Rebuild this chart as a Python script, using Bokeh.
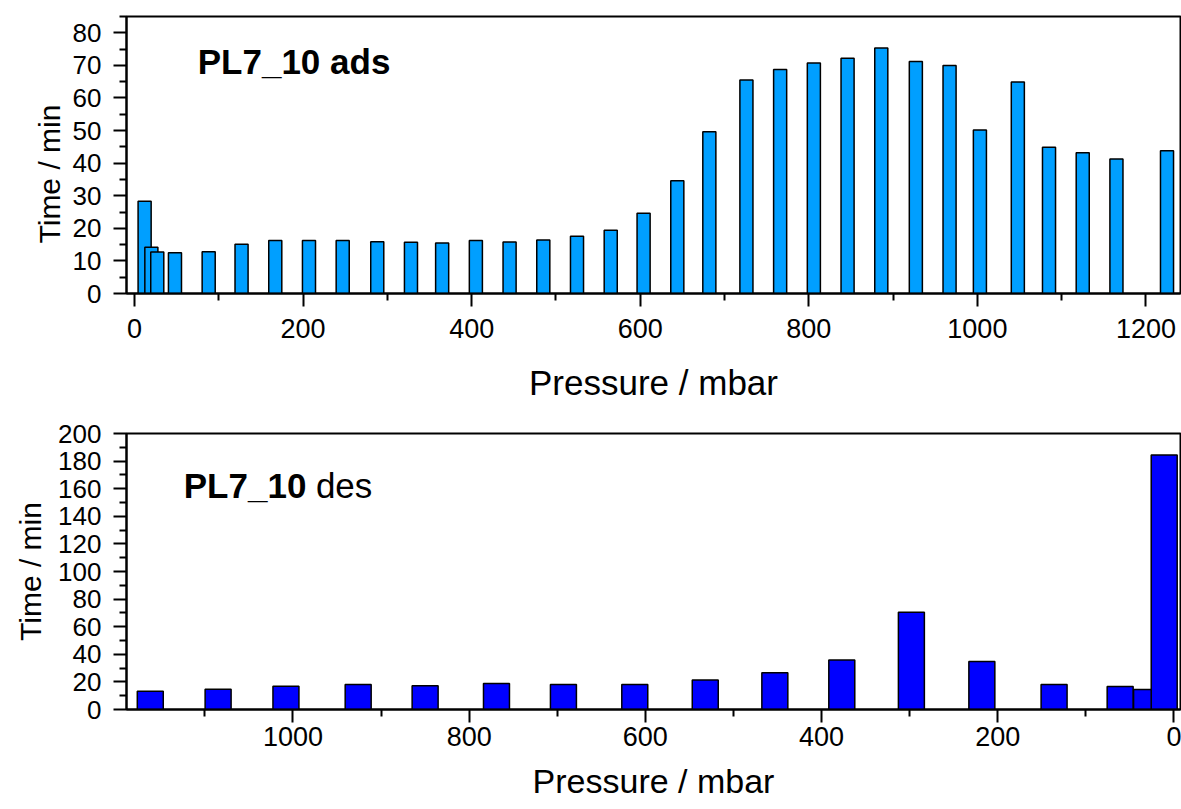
from bokeh.plotting import figure
from bokeh.layouts import column
from bokeh.models import Range1d, FixedTicker, Label, Title, ColumnDataSource
from bokeh.embed import file_html
from bokeh.resources import INLINE

# Adsorption branch: equilibration time per pressure step
ads_pressure = [12, 20, 27, 48, 88, 127, 167, 207, 247, 288,
                328, 365, 405, 445, 485, 525, 565, 604, 644, 682,
                726, 766, 806, 846, 886, 927, 967, 1003, 1048, 1085,
                1125, 1165, 1225]
ads_time = [28.3, 14.2, 12.7, 12.5, 12.8, 15.1, 16.3, 16.3, 16.3, 15.9,
            15.7, 15.5, 16.3, 15.8, 16.4, 17.6, 19.4, 24.6, 34.6, 49.6,
            65.5, 68.7, 70.7, 72.2, 75.3, 71.2, 70.0, 50.2, 64.9, 44.9,
            43.2, 41.3, 43.8]

# Desorption branch (pressure decreasing)
des_pressure = [1162, 1085, 1008, 926, 850, 769, 693, 612, 532, 453,
                377, 298, 218, 136, 61, 31, 11]
des_time = [13.2, 14.7, 16.8, 18.1, 17.3, 18.8, 18.1, 18.1, 21.4, 26.7,
            35.9, 70.4, 34.7, 18.1, 16.6, 14.5, 184.4]

ads_xticks = [0, 200, 400, 600, 800, 1000, 1200]
ads_xminor = [100, 300, 500, 700, 900, 1100]
ads_yticks = [0, 10, 20, 30, 40, 50, 60, 70, 80]
ads_yminor = [5, 15, 25, 35, 45, 55, 65, 75, 85]

des_xticks = [0, 200, 400, 600, 800, 1000]
des_xminor = [100, 300, 500, 700, 900, 1100]
des_yticks = [0, 20, 40, 60, 80, 100, 120, 140, 160, 180, 200]
des_yminor = [10, 30, 50, 70, 90, 110, 130, 150, 170, 190]

FONT = "Liberation Sans"


def style(p, xticks, xminor, yticks, yminor, x_std, xl_std, xl_size):
    p.xaxis.ticker = FixedTicker(ticks=xticks, minor_ticks=xminor)
    p.yaxis.ticker = FixedTicker(ticks=yticks, minor_ticks=yminor)
    for ax in (p.xaxis[0], p.yaxis[0]):
        ax.axis_line_width = 2
        ax.axis_line_color = "black"
        ax.major_tick_line_width = 2
        ax.minor_tick_line_width = 2
        ax.major_tick_line_color = "black"
        ax.minor_tick_line_color = "black"
        ax.major_tick_in = 0
        ax.major_tick_out = 13
        ax.minor_tick_in = 0
        ax.minor_tick_out = 7
        ax.major_label_text_font = FONT
        ax.major_label_text_color = "black"
        ax.axis_label_text_font = FONT
        ax.axis_label_text_font_style = "normal"
        ax.axis_label_text_color = "black"
    p.xaxis.axis_label_text_font_size = xl_size
    p.yaxis.axis_label_text_font_size = "30px"
    p.xaxis.major_label_text_font_size = "27px"
    p.yaxis.major_label_text_font_size = "26px"
    p.xaxis.major_label_standoff = x_std
    p.xaxis.axis_label_standoff = xl_std
    p.yaxis.major_label_standoff = 12
    p.yaxis.axis_label_standoff = 8
    p.grid.visible = False
    p.outline_line_color = "black"
    p.outline_line_width = 2
    p.background_fill_color = "white"
    p.border_fill_color = "white"


# --- adsorption panel ---
p1 = figure(width=1181, height=410,
            x_range=Range1d(-9.5, 1241), y_range=Range1d(0, 85),
            min_border_left=126, min_border_right=1,
            min_border_top=16, min_border_bottom=117,
            output_backend="svg", toolbar_location=None,
            x_axis_label="Pressure / mbar")
src1 = ColumnDataSource(dict(p=ads_pressure, t=ads_time))
p1.vbar(x="p", top="t", bottom=0, width=15.5, source=src1,
        fill_color="#009FFF", line_color="black", line_width=1.5)
style(p1, ads_xticks, ads_xminor, ads_yticks, ads_yminor, 12, 22, "35px")
# y title of the upper panel, starting a little above the x axis
p1.add_layout(Title(text="Time / min", align="left", offset=50,
                    vertical_align="middle", standoff=6,
                    text_font=FONT, text_font_size="30px",
                    text_font_style="normal", text_color="black"), "left")
p1.add_layout(Label(x=75, y=71.2, text="PL7_10 ads", text_font=FONT,
                    text_font_size="35px", text_font_style="bold",
                    text_color="black", text_baseline="alphabetic"))

# --- desorption panel (reversed pressure axis) ---
p2 = figure(width=1181, height=399,
            x_range=Range1d(1189, -7.5), y_range=Range1d(0, 200),
            min_border_left=126, min_border_right=1,
            min_border_top=23, min_border_bottom=100,
            output_backend="svg", toolbar_location=None,
            x_axis_label="Pressure / mbar", y_axis_label="Time / min")
src2 = ColumnDataSource(dict(p=des_pressure, t=des_time))
p2.vbar(x="p", top="t", bottom=0, width=29.5, source=src2,
        fill_color="#0000FF", line_color="black", line_width=1.5)
style(p2, des_xticks, des_xminor, des_yticks, des_yminor, 4, 13, "34px")
p2.add_layout(Label(x=1124, y=162.2, text="PL7_10", text_font=FONT,
                    text_font_size="35px", text_font_style="bold",
                    text_color="black", text_baseline="alphabetic"))
p2.add_layout(Label(x=974, y=162.2, text="des", text_font=FONT,
                    text_font_size="35px", text_font_style="normal",
                    text_color="black", text_baseline="alphabetic"))

layout = column(p1, p2, spacing=0)
open("out.html", "w").write(file_html(layout, INLINE))
